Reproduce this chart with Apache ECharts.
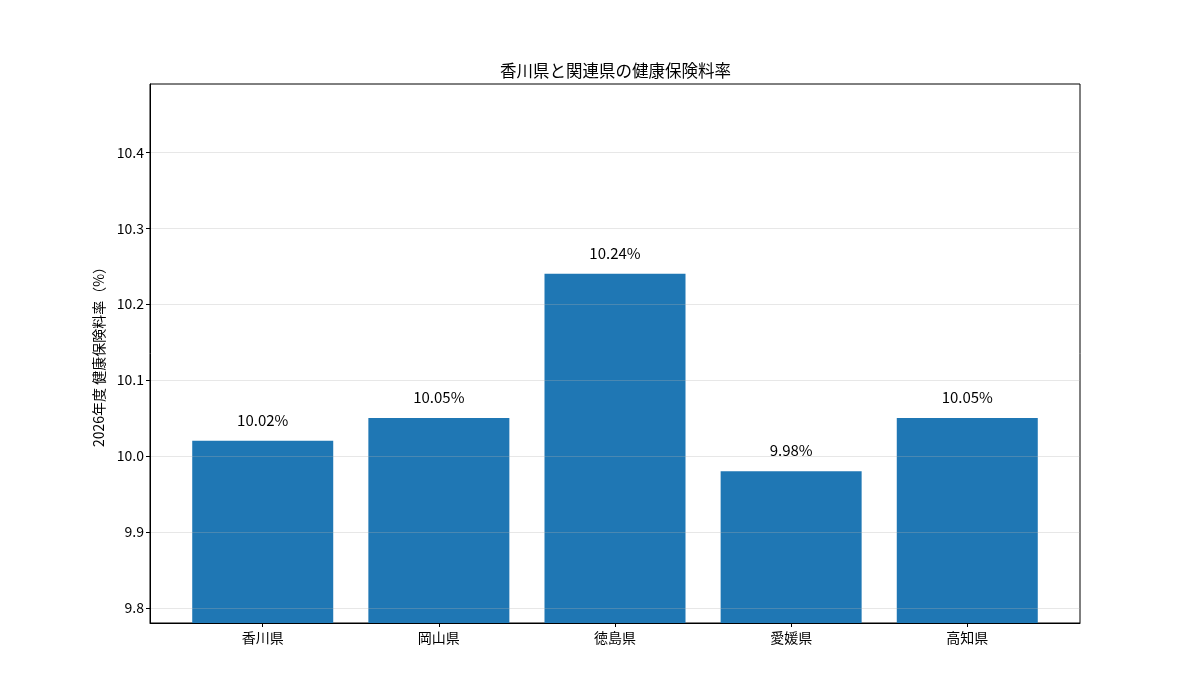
<!DOCTYPE html>
<html><head><meta charset="utf-8">
<script src="https://cdn.jsdelivr.net/npm/echarts@6/dist/echarts.min.js"></script>
<style>html,body{margin:0;padding:0;background:#fff}#c{width:1200px;height:700px}</style>
</head><body><div id="c"></div>
<script>
const categories = ['香川県', '岡山県', '徳島県', '愛媛県', '高知県'];
const rates = [10.02, 10.05, 10.24, 9.98, 10.05];
const yTicks = [9.8, 9.9, 10.0, 10.1, 10.2, 10.3, 10.4];
const xTicks = [0, 1, 2, 3, 4];

const font = '"Noto Sans CJK JP", "Noto Sans", sans-serif';
const chart = echarts.init(document.getElementById('c'), null, {renderer: 'canvas'});
chart.setOption({
  animation: false,
  backgroundColor: '#fff',
  title: {
    text: '香川県と関連県の健康保険料率',
    left: 495, top: 57,
    textStyle: {fontFamily: font, fontSize: 16.5, fontWeight: 'normal', color: '#000'}
  },
  grid: {left: 150, right: 120, top: 84, bottom: 77, show: true, borderColor: '#000', borderWidth: 1, backgroundColor: 'transparent'},
  xAxis: {
    type: 'value', min: -0.64, max: 4.64,
    axisLine: {show: true, onZero: false, lineStyle: {color: '#000', width: 1}},
    axisTick: {show: true, length: 4, customValues: xTicks, lineStyle: {color: '#000'}},
    axisLabel: {customValues: xTicks, formatter: v => categories[Math.round(v)], fontFamily: font, fontSize: 14, color: '#000', margin: 8},
    splitLine: {show: false}
  },
  yAxis: {
    type: 'value', min: 9.78, max: 10.49, z: 5,
    name: '2026年度 健康保険料率（%）', nameLocation: 'middle', nameGap: 44,
    nameTextStyle: {fontFamily: font, fontSize: 14, color: '#000'},
    axisLine: {show: true, onZero: false, lineStyle: {color: '#000', width: 1}},
    axisTick: {show: true, length: 4, customValues: yTicks, lineStyle: {color: '#000'}},
    axisLabel: {customValues: yTicks, formatter: v => v.toFixed(1), fontFamily: font, fontSize: 14, color: '#000', margin: 6},
    splitLine: {show: true, lineStyle: {color: 'rgba(176,176,176,0.3)', width: 1}}
  },
  series: [{
    type: 'bar',
    data: rates.map((v, i) => [xTicks[i], v]),
    barWidth: 141,
    itemStyle: {color: '#1f77b4'},
    label: {show: true, position: 'top', distance: 13, formatter: p => p.value[1].toFixed(2) + '%',
      fontFamily: font, fontSize: 15, color: '#000'}
  }]
});
</script></body></html>
